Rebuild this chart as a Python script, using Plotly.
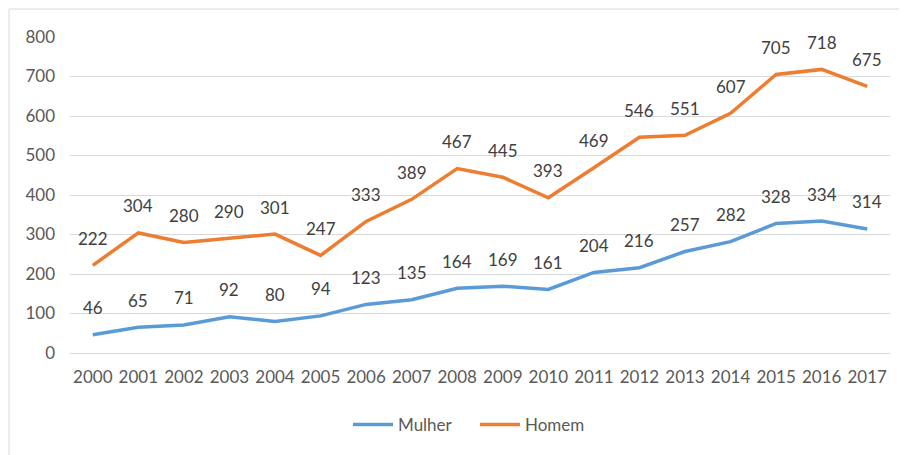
import plotly.graph_objects as go

years = [str(y) for y in range(2000, 2018)]
mulher = [46, 65, 71, 92, 80, 94, 123, 135, 164, 169, 161, 204, 216, 257, 282, 328, 334, 314]
homem = [222, 304, 280, 290, 301, 247, 333, 389, 467, 445, 393, 469, 546, 551, 607, 705, 718, 675]
y_ticks = [0, 100, 200, 300, 400, 500, 600, 700, 800]

FONT = "Lato"
GRAY = "#595959"
BLUE = "#5B9BD5"
ORANGE = "#ED7D31"

fig = go.Figure()
fig.add_trace(go.Scatter(x=years, y=mulher, mode="lines", name="Mulher",
                         line=dict(color=BLUE, width=3.5)))
fig.add_trace(go.Scatter(x=years, y=homem, mode="lines", name="Homem",
                         line=dict(color=ORANGE, width=3.5)))

annotations = []
for series in (mulher, homem):
    for i, v in enumerate(series):
        annotations.append(dict(x=i, y=v, xref="x", yref="y", text=str(v), showarrow=False,
                                yshift=27, font=dict(family=FONT, size=17, color="#404040")))

# page body adds an 8px offset; work in reference pixel coords minus that
OFF = 8
W, H = 907 - OFF, 455 - OFF
ml, mt = 70 - OFF, 37 - OFF
plot_right, plot_bottom = 890 - OFF, 353 - OFF
mr, mb = W - plot_right, H - plot_bottom
pw, ph = W - ml - mr, H - mt - mb

def px_x(p):
    return (p - OFF - ml) / pw

def px_y(p):
    return 1 - (p - OFF - mt) / ph

fig.update_layout(
    width=W, height=H,
    margin=dict(l=ml, r=mr, t=mt, b=mb, autoexpand=False),
    paper_bgcolor="white", plot_bgcolor="white",
    font=dict(family=FONT, size=17, color=GRAY),
    showlegend=True,
    legend=dict(orientation="h", x=px_x(348), xanchor="left", y=px_y(425), yanchor="middle",
                font=dict(family=FONT, size=17, color=GRAY), itemwidth=40,
                entrywidth=72, bgcolor="rgba(0,0,0,0)"),
    xaxis=dict(type="category", range=[-0.5, 17.5], showgrid=False, showline=False, zeroline=False,
               ticks="", ticklabelstandoff=12, automargin=False,
               tickfont=dict(family=FONT, size=17, color=GRAY)),
    yaxis=dict(range=[0, 800], tickvals=y_ticks, showgrid=True, gridcolor="#D9D9D9", gridwidth=1,
               zeroline=True, zerolinecolor="#D9D9D9", zerolinewidth=1, showline=False,
               ticks="", ticklabelstandoff=14, automargin=False,
               tickfont=dict(family=FONT, size=17, color=GRAY)),
    annotations=annotations,
    shapes=[dict(type="rect", xref="paper", yref="paper",
                 x0=px_x(9), x1=px_x(915), y0=px_y(465), y1=px_y(9),
                 line=dict(color="#D9D9D9", width=1), layer="below")],
)

fig.write_html("out.html")
